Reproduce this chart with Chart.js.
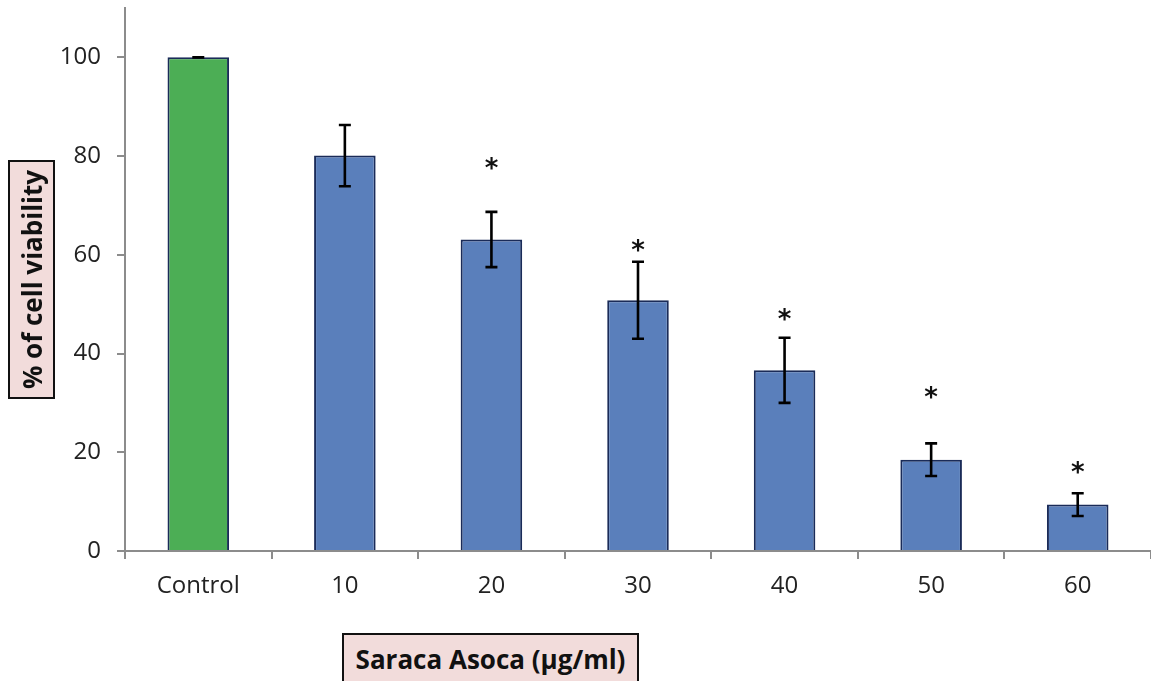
<!DOCTYPE html>
<html>
<head>
<meta charset="utf-8">
<script src="https://cdn.jsdelivr.net/npm/chart.js@4/dist/chart.umd.min.js"></script>
<style>
  html, body { margin: 0; padding: 0; background: #fff; }
  #wrap { position: relative; width: 1151px; height: 681px; overflow: hidden; }
  canvas { position: absolute; left: 0; top: 0; }
  .axis-title {
    position: absolute;
    background: #f2dcdb;
    border: 2px solid #111;
    box-sizing: border-box;
    font-family: "Open Sans", sans-serif;
    font-weight: bold;
    font-size: 26px;
    color: #111;
    display: flex;
    align-items: center;
    justify-content: center;
    white-space: nowrap;
  }
  #ytitle { left: -88px; top: 256px; width: 239px; height: 47px; transform: rotate(-90deg); }
  #xtitle { left: 342px; top: 633px; width: 297px; height: 58px; align-items: flex-start; padding-top: 6px; }
</style>
</head>
<body>
<div id="wrap">
  <canvas id="chart" width="1151" height="681"></canvas>
  <div class="axis-title" id="ytitle">% of cell viability</div>
  <div class="axis-title" id="xtitle">Saraca Asoca (µg/ml)</div>
</div>
<script>
// Данные графика
const categories = ['Control', '10', '20', '30', '40', '50', '60'];
const viability = [100, 80.1, 63.1, 50.8, 36.6, 18.5, 9.4];
const errors = [0, 6.2, 5.6, 7.8, 6.6, 3.3, 2.3];
// звёздочки значимости (null — нет)
const starLevels = [null, null, 78, 61.3, 47.4, 31.6, 16.4];
const barColors = ['#4cae55', '#5a7fbb', '#5a7fbb', '#5a7fbb', '#5a7fbb', '#5a7fbb', '#5a7fbb'];

const FONT = '"Open Sans", sans-serif';

// Плагин для планок погрешности и звёздочек
const errorBarPlugin = {
  id: 'errorBars',
  afterDatasetsDraw(chart) {
    const ctx = chart.ctx;
    const meta = chart.getDatasetMeta(0);
    const y = chart.scales.y;
    ctx.save();
    ctx.strokeStyle = '#000';
    ctx.lineWidth = 2.6;
    meta.data.forEach((bar, i) => {
      const x = bar.x;
      const top = y.getPixelForValue(viability[i] + errors[i]);
      const bottom = y.getPixelForValue(viability[i] - errors[i]);
      ctx.beginPath();
      ctx.moveTo(x, top);
      ctx.lineTo(x, bottom);
      ctx.moveTo(x - 6, top);
      ctx.lineTo(x + 6, top);
      ctx.moveTo(x - 6, bottom);
      ctx.lineTo(x + 6, bottom);
      ctx.stroke();
      if (starLevels[i] !== null) {
        ctx.fillStyle = '#111';
        ctx.font = 'bold 26px "DejaVu Sans", sans-serif';
        ctx.textAlign = 'center';
        ctx.textBaseline = 'middle';
        ctx.fillText('*', x, y.getPixelForValue(starLevels[i]) + 4);
      }
    });
    ctx.restore();
  }
};

const config = {
  type: 'bar',
  data: {
    labels: categories,
    datasets: [{
      data: viability,
      backgroundColor: barColors,
      borderColor: '#1a2b58',
      borderWidth: 2,
      barPercentage: 0.42,
      categoryPercentage: 1.0
    }]
  },
  options: {
    responsive: false,
    animation: false,
    layout: { padding: { top: 8, right: 0, left: 0, bottom: 0 } },
    plugins: {
      legend: { display: false },
      tooltip: { enabled: false }
    },
    scales: {
      x: {
        grid: {
          drawOnChartArea: false,
          drawTicks: true,
          tickLength: 8,
          color: '#8c8c8c',
          lineWidth: 2
        },
        border: { color: '#8c8c8c', width: 2 },
        ticks: {
          color: '#222',
          padding: 13,
          font: { family: FONT, size: 24 },
          maxRotation: 0
        },
        afterFit(scale) {
          scale.height = 130;
          scale.paddingLeft = 0;
          scale.paddingRight = 0;
        }
      },
      y: {
        min: 0,
        max: 110,
        grid: {
          drawOnChartArea: false,
          drawTicks: true,
          tickLength: 8,
          color: '#8c8c8c',
          lineWidth: 2
        },
        border: { color: '#8c8c8c', width: 2 },
        ticks: {
          stepSize: 20,
          color: '#222',
          padding: 16,
          font: { family: FONT, size: 24 }
        },
        afterBuildTicks(scale) {
          scale.ticks = scale.ticks.filter(t => t.value <= 100);
        },
        afterFit(scale) {
          scale.width = 125;
          scale.paddingTop = 0;
          scale.paddingBottom = 0;
        }
      }
    }
  },
  plugins: [errorBarPlugin]
};

new Chart(document.getElementById('chart').getContext('2d'), config);
</script>
</body>
</html>
